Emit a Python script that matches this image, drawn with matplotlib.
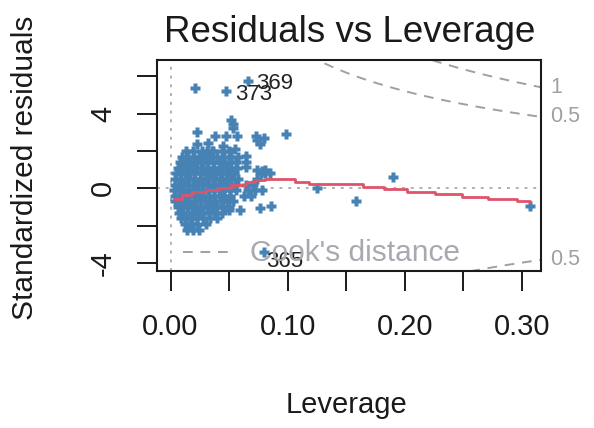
import numpy as np
import matplotlib
matplotlib.use("Agg")
import matplotlib.pyplot as plt

plt.rcParams['font.family'] = ['Liberation Sans', 'DejaVu Sans']

# leverage / standardized residual pairs, dense core written row by row
blob_rows = [
    (2.0, [0.013, 0.019, 0.027, 0.031, 0.036, 0.044, 0.050]),
    (1.7, [0.010, 0.015, 0.020, 0.024, 0.029, 0.034, 0.040, 0.046, 0.052, 0.058]),
    (1.4, [0.008, 0.012, 0.017, 0.022, 0.026, 0.031, 0.036, 0.041, 0.045, 0.050, 0.056, 0.064]),
    (1.1, [0.006, 0.010, 0.014, 0.019, 0.023, 0.028, 0.032, 0.037, 0.042, 0.047, 0.052, 0.057]),
    (0.8, [0.005, 0.009, 0.013, 0.017, 0.021, 0.026, 0.030, 0.035, 0.039, 0.044, 0.049, 0.054, 0.077, 0.081, 0.085]),
    (0.5, [0.004, 0.008, 0.012, 0.016, 0.020, 0.025, 0.029, 0.033, 0.038, 0.042, 0.047, 0.052, 0.058, 0.074]),
    (0.2, [0.004, 0.007, 0.011, 0.015, 0.019, 0.023, 0.027, 0.032, 0.036, 0.041, 0.045, 0.050, 0.055, 0.064, 0.070]),
    (-0.1, [0.003, 0.007, 0.011, 0.015, 0.019, 0.023, 0.028, 0.032, 0.037, 0.041, 0.046, 0.051, 0.056, 0.066, 0.072, 0.078]),
    (-0.4, [0.004, 0.008, 0.012, 0.016, 0.020, 0.024, 0.028, 0.033, 0.037, 0.042, 0.046, 0.051, 0.063, 0.069]),
    (-0.7, [0.004, 0.008, 0.012, 0.016, 0.021, 0.025, 0.029, 0.034, 0.038, 0.043, 0.048, 0.053]),
    (-1.0, [0.006, 0.010, 0.014, 0.018, 0.022, 0.026, 0.031, 0.035, 0.040, 0.045, 0.050]),
    (-1.3, [0.007, 0.011, 0.015, 0.019, 0.024, 0.028, 0.033, 0.038, 0.044]),
    (-1.6, [0.009, 0.013, 0.018, 0.023, 0.028, 0.034, 0.040]),
    (-1.9, [0.012, 0.017, 0.023, 0.030]),
]

# sparser observations around the core
extra_lev = [0.021, 0.047, 0.066, 0.052, 0.053, 0.053, 0.023, 0.038, 0.0475, 0.057,
             0.073, 0.074, 0.076, 0.080, 0.0985, 0.023, 0.032, 0.035, 0.045, 0.055,
             0.064, 0.064, 0.074, 0.078, 0.081, 0.125, 0.190, 0.158, 0.307, 0.076,
             0.086, 0.050, 0.0594, 0.0138, 0.019, 0.024, 0.080]
extra_res = [5.35, 5.22, 5.74, 3.65, 3.45, 3.20, 3.03, 2.80, 2.80, 2.80,
             2.80, 2.60, 2.36, 2.70, 2.89, 2.37, 2.40, 2.00, 2.26, 2.10,
             1.73, 1.12, 0.98, 0.92, 1.00, 0.00, 0.62, -0.68, -0.93, -1.04,
             -0.93, -1.16, -1.16, -2.23, -2.23, -2.23, -3.39]

# labelled observations
id_lev = [0.066, 0.047, 0.080]
id_res = [5.74, 5.22, -3.39]
id_names = ['369', '373', '365']
id_offsets = [(6, -2), (7, -3), (1, -7)]

# smoother through the residuals
smooth_lev = [0.004, 0.010, 0.018, 0.030, 0.041, 0.052, 0.064, 0.072, 0.081, 0.104,
              0.106, 0.118, 0.164, 0.182, 0.202, 0.226, 0.249, 0.271, 0.296, 0.307]
smooth_res = [-0.59, -0.36, -0.18, -0.09, 0.03, 0.18, 0.32, 0.44, 0.50, 0.50,
              0.35, 0.23, 0.09, -0.05, -0.18, -0.30, -0.45, -0.57, -0.68, -0.72]

# Cook's distance contours
n_params = 13.5
cook_levels = [0.5, 1.0]

lev = np.concatenate([np.array(hs) for _, hs in blob_rows] + [np.array(extra_lev)])
res = np.concatenate([np.full(len(hs), r) for r, hs in blob_rows] + [np.array(extra_res)])

fig = plt.figure(figsize=(5.94, 4.28), dpi=100)
ax = fig.add_axes([156.5 / 594, 1 - 270.7 / 428, (540.7 - 156.5) / 594, (270.7 - 60) / 428])
xlim = (-0.012, 0.316)
ylim = (-4.4, 6.86)

ax.axhline(0, color='#b0b0b0', ls=(0, (1.5, 3)), lw=1.4, zorder=1)
ax.axvline(0, color='#b0b0b0', ls=(0, (1.5, 3)), lw=1.4, zorder=1)

ax.plot(lev, res, ls='none', marker='P', ms=6.5, color='#4682B4', mec='none', zorder=2)
ax.step(smooth_lev, smooth_res, where='post', color='#DF536B', lw=2, zorder=3)

hh = np.linspace(0.002, xlim[1], 200)
grey = '#a0a0a0'
for lvl in cook_levels:
    cl = np.sqrt(lvl * n_params * (1 - hh) / hh)
    ax.plot(hh, cl, color=grey, ls=(0, (5, 4)), lw=1.4, zorder=1)
    ax.plot(hh, -cl, color=grey, ls=(0, (5, 4)), lw=1.4, zorder=1)
    edge = np.sqrt(lvl * n_params * (1 - xlim[1]) / xlim[1])
    for yv in (edge, -edge):
        if ylim[0] < yv < ylim[1]:
            ax.annotate('%g' % lvl, xy=(1.0, yv), xycoords=('axes fraction', 'data'),
                        xytext=(7, 0), textcoords='offset points', va='center',
                        ha='left', color=grey, fontsize=15.5, annotation_clip=False)

for x, y, name, off in zip(id_lev, id_res, id_names, id_offsets):
    ax.annotate(name, xy=(x, y), xytext=off, textcoords='offset points',
                ha='left', va='center', fontsize=16, color='#222222')

# legend line for the contours
ax.plot([0.011, 0.054], [-3.4, -3.4], color=grey, ls=(0, (5, 4)), lw=1.4)
ax.text(0.068, -3.45, "Cook's distance", color='#a8a8b0', fontsize=21.5, va='center', ha='left')

ax.set_xlim(*xlim)
ax.set_ylim(*ylim)
ax.set_xticks([0, 0.05, 0.10, 0.15, 0.20, 0.25, 0.30])
ax.set_xticklabels(['0.00', '', '0.10', '', '0.20', '', '0.30'])
ax.set_yticks([-4, -2, 0, 2, 4, 6])
ax.set_yticklabels(['-4', '', '0', '', '4', ''], rotation=90, va='center')
ax.tick_params(length=14.5, width=1.4, labelsize=21, colors='#1a1a1a')
ax.tick_params(axis='x', pad=16)
ax.tick_params(axis='y', pad=14)
for s in ax.spines.values():
    s.set_linewidth(1.5)
    s.set_color('#1a1a1a')

fig.text(350 / 594, 1 - 42 / 428, 'Residuals vs Leverage', ha='center', va='baseline',
         fontsize=26.5, color='#1a1a1a')
fig.text(346 / 594, 1 - 405 / 428, 'Leverage', ha='center', va='center',
         fontsize=21, color='#1a1a1a')
fig.text(25 / 594, 1 - 168 / 428, 'Standardized residuals', ha='center', va='center',
         rotation=90, fontsize=21.5, color='#1a1a1a')

fig.savefig('out.png', dpi=100)
